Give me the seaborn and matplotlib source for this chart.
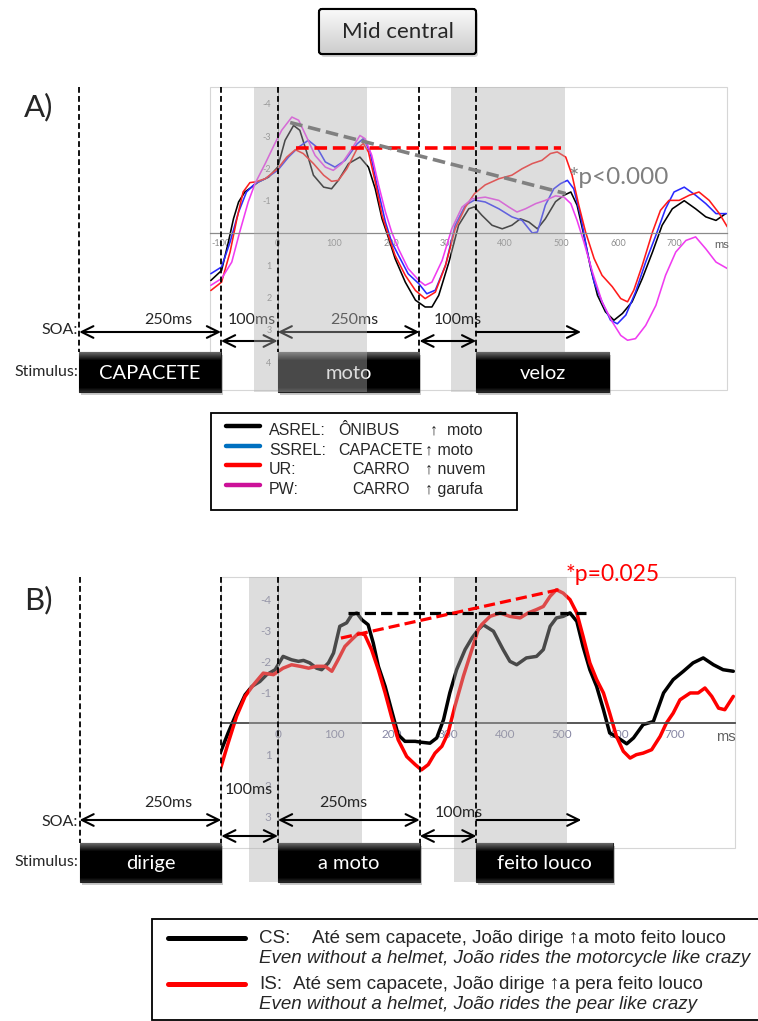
import numpy as np
import pandas as pd
import matplotlib
matplotlib.use("Agg")
import matplotlib.pyplot as plt
import seaborn as sns
from matplotlib import transforms
from matplotlib.patches import Rectangle, FancyBboxPatch
from matplotlib.lines import Line2D

# ---------------------------------------------------------------------------
# Panel A: grand-average ERPs at the mid-central site (µV, negative up)
# ---------------------------------------------------------------------------
a_asrel_t = [-118, -99, -87, -78, -69, -58, -46, -34, -16, 0, 13, 28, 39, 51, 63, 81, 95, 107, 125, 145,
             160, 172, 184, 196, 207, 225, 243, 260, 272, 284, 302, 319, 337, 347, 360, 378, 396, 413, 428,
             443, 458, 472, 490, 505, 517, 528, 540, 552, 564, 578, 593, 608, 625, 643, 661, 678, 696, 717,
             737, 755, 773, 790]
a_asrel_v = [1.47, 1.16, 0.28, -0.44, -0.96, -1.27, -1.42, -1.58, -1.73, -2.04, -2.87, -3.33, -3.18, -2.51,
             -1.79, -1.42, -1.37, -1.63, -2.15, -2.35, -2.04, -1.37, -0.44, 0.18, 0.79, 1.52, 2.08, 2.29, 2.29,
             1.93, 0.90, -0.24, -0.75, -0.81, -0.55, -0.24, -0.13, -0.24, -0.44, -0.34, -0.13, -0.44, -0.97,
             -1.17, -1.27, -0.86, 0.07, 1.09, 1.93, 2.44, 2.70, 2.49, 2.13, 1.41, 0.59, -0.24, -0.75, -1.00,
             -0.75, -0.50, -0.39, -0.60]

a_ssrel_t = [-118, -99, -84, -69, -55, -40, -22, 0, 19, 37, 54, 69, 84, 101, 119, 140, 151, 163, 175, 190,
             201, 213, 230, 249, 263, 278, 296, 313, 331, 347, 366, 390, 413, 431, 449, 458, 472, 487, 499,
             511, 522, 534, 546, 558, 572, 587, 599, 614, 631, 649, 667, 684, 699, 717, 737, 755, 773, 793]
a_ssrel_v = [1.26, 1.05, 0.28, -0.65, -1.27, -1.53, -1.68, -1.94, -2.35, -2.66, -2.87, -2.66, -2.20, -2.04,
             -2.25, -2.76, -2.92, -2.51, -1.48, -0.34, 0.28, 0.69, 1.26, 1.57, 1.88, 1.77, 1.00, -0.24, -0.86,
             -1.02, -0.96, -0.75, -0.50, -0.39, 0.00, -0.03, -0.86, -1.37, -1.53, -1.63, -1.37, -0.55, 0.58,
             1.52, 2.13, 2.70, 2.81, 2.54, 1.83, 0.90, 0.07, -0.75, -1.27, -1.42, -1.17, -0.91, -0.60, -0.60]

a_ur_t = [-118, -99, -84, -72, -61, -49, -40, -22, 0, 16, 31, 45, 63, 81, 95, 107, 122, 140, 151, 160, 172,
          184, 196, 207, 225, 243, 260, 278, 296, 313, 331, 347, 366, 390, 413, 431, 449, 466, 481, 493, 508,
          519, 531, 543, 558, 572, 590, 605, 617, 628, 643, 661, 675, 690, 708, 726, 743, 761, 779, 793]
a_ur_v = [1.78, 1.52, 0.59, -0.44, -1.27, -1.56, -1.58, -1.68, -1.99, -2.35, -2.58, -2.46, -2.15, -1.79,
          -1.60, -1.63, -1.99, -2.61, -2.77, -2.51, -1.58, -0.55, 0.12, 0.69, 1.31, 1.78, 2.03, 1.83, 1.00,
          -0.13, -0.80, -1.22, -1.49, -1.68, -1.79, -1.99, -2.15, -2.25, -2.46, -2.51, -2.35, -1.80, -0.86,
          -0.03, 0.79, 1.31, 1.66, 2.03, 2.13, 1.77, 1.00, -0.03, -0.70, -1.01, -1.01, -1.17, -1.27, -1.01,
          -0.60, -0.19]

a_pw_t = [-118, -99, -81, -67, -52, -40, -22, -5, 7, 25, 37, 51, 66, 84, 98, 113, 131, 145, 154, 166, 178,
          190, 201, 213, 230, 249, 260, 272, 290, 307, 325, 343, 366, 390, 408, 422, 437, 455, 472, 490, 505,
          517, 528, 540, 555, 572, 590, 605, 617, 631, 649, 667, 684, 702, 720, 737, 755, 773, 793]
a_pw_v = [1.62, 1.41, 0.90, -0.03, -0.96, -1.53, -2.15, -2.77, -3.18, -3.59, -3.49, -2.97, -2.40, -2.04,
          -1.94, -2.15, -2.61, -3.02, -2.92, -2.40, -1.48, -0.65, -0.03, 0.49, 1.10, 1.47, 1.62, 1.52, 0.85,
          -0.13, -0.80, -1.06, -1.11, -1.01, -0.80, -0.65, -0.75, -0.91, -1.01, -1.15, -1.11, -0.91, -0.39,
          0.28, 1.20, 2.13, 2.75, 3.17, 3.32, 3.27, 2.86, 2.24, 1.31, 0.59, 0.23, 0.12, 0.49, 0.90, 1.10]

a_conditions = ["ASREL", "SSREL", "UR", "PW"]
a_curve_colors = ["#000000", "#2a2aff", "#ff1a1a", "#f03cf0"]
a_key_colors = ["#000000", "#0070c0", "#ff0000", "#cc1199"]
a_key_codes = ["ASREL:", "SSREL:", "UR:", "PW:"]
a_key_context = ["ÔNIBUS", "CAPACETE", "CARRO", "CARRO"]
a_key_target = ["↑  moto", "↑ moto", "↑ nuvem", "↑ garufa"]

# comparison lines and statistic drawn over panel A
a_red_ref_ms, a_red_ref_uv = [32, 500], [-2.64, -2.64]
a_grey_ref_ms, a_grey_ref_uv = [22, 508], [-3.42, -1.22]
a_stat_text = "*p<0.000"

# ---------------------------------------------------------------------------
# Panel B: sentence condition ERPs
# ---------------------------------------------------------------------------
b_cs_t = [-102, -88, -73, -58, -46, -32, -20, -5, 9, 24, 36, 45, 56, 68, 77, 89, 98, 109, 121, 130, 139, 148,
          159, 168, 177, 189, 200, 212, 224, 242, 253, 268, 280, 292, 303, 315, 330, 342, 353, 362, 380, 397,
          409, 421, 438, 456, 468, 480, 491, 503, 515, 527, 538, 550, 562, 574, 585, 600, 615, 627, 644, 662,
          680, 697, 715, 732, 750, 768, 785, 803]
b_cs_v = [0.97, 0.32, -0.32, -0.91, -1.18, -1.34, -1.56, -1.72, -2.15, -2.04, -1.99, -2.02, -1.94, -1.77,
          -1.72, -1.94, -2.26, -3.12, -3.23, -3.49, -3.55, -3.33, -3.17, -2.58, -1.83, -1.18, -0.43, 0.38,
          0.59, 0.59, 0.62, 0.65, 0.48, -0.11, -0.97, -1.72, -2.37, -2.74, -3.01, -3.17, -2.96, -2.37, -1.99,
          -1.88, -2.10, -2.15, -2.37, -3.12, -3.39, -3.44, -3.55, -3.28, -2.47, -1.72, -1.18, -0.43, 0.32,
          0.48, 0.67, 0.48, 0.05, -0.05, -0.97, -1.40, -1.67, -1.94, -2.10, -1.88, -1.72, -1.67]

b_is_t = [-102, -88, -73, -58, -43, -26, -8, 9, 24, 39, 54, 68, 83, 95, 106, 118, 130, 142, 153, 165, 177,
          189, 200, 212, 227, 242, 253, 265, 277, 289, 300, 312, 327, 342, 353, 359, 374, 392, 409, 427, 441,
          456, 468, 480, 491, 503, 515, 527, 538, 550, 562, 574, 585, 597, 609, 621, 632, 644, 659, 674, 685,
          697, 709, 727, 741, 753, 765, 777, 788, 803]
b_is_v = [1.51, 0.65, -0.22, -0.86, -1.24, -1.61, -1.56, -1.77, -1.88, -1.83, -1.77, -1.83, -1.83, -1.67,
          -2.04, -2.47, -2.69, -2.90, -2.85, -2.37, -1.72, -0.97, -0.22, 0.54, 1.08, 1.34, 1.51, 1.34, 0.97,
          0.75, 0.32, -0.54, -1.51, -2.37, -3.01, -3.17, -3.44, -3.55, -3.44, -3.39, -3.55, -3.66, -3.76,
          -4.09, -4.30, -4.19, -3.98, -3.55, -2.80, -1.94, -1.40, -0.97, -0.32, 0.43, 0.91, 1.13, 1.02, 0.97,
          0.86, 0.43, 0.00, -0.32, -0.75, -0.97, -0.97, -1.13, -0.86, -0.48, -0.43, -0.86]

b_conditions = ["CS", "IS"]
b_curve_colors = ["#000000", "#ff0000"]
b_key_codes = ["CS:", "IS:"]
b_key_pt = ["Até sem capacete, João dirige ↑a moto feito louco",
            "Até sem capacete, João dirige ↑a pera feito louco"]
b_key_en = ["Even without a helmet, João rides the motorcycle like crazy",
            "Even without a helmet, João rides the pear like crazy"]

b_black_ref_ms, b_black_ref_uv = [124, 543], [-3.55, -3.55]
b_red_ref_ms, b_red_ref_uv = [111, 500], [-2.74, -4.32]
b_stat_text = "*p=0.025"

# time axis ticks and analysis windows (ms)
x_ticks = [-100, 0, 100, 200, 300, 400, 500, 600, 700]
a_y_ticks = [-4, -3, -2, -1, 1, 2, 3, 4]
b_y_ticks = [-4, -3, -2, -1, 1, 2, 3]
a_windows = [(-41, 158), (306, 506)]
b_windows = [(-51, 149), (311, 509)]

# stimulus timeline (ms relative to the critical word)
event_lines = [-350, -100, 0, 250, 350]
a_words = ["CAPACETE", "moto", "veloz"]
b_words = ["dirige", "a moto", "feito louco"]
word_on = [-350, 0, 350]
a_word_off = [-100, 250, 585]
b_word_off = [-100, 250, 590]
soa_labels = ["250ms", "100ms", "250ms", "100ms"]
soa_spans = [(-350, -100), (-100, 0), (0, 250), (250, 350)]
last_span = (350, 535)

# ---------------------------------------------------------------------------
sns.set_style("white")
plt.rcParams["font.family"] = ["Lato", "DejaVu Sans"]
ARIAL = ["Liberation Sans", "DejaVu Sans"]

W, H = 758, 1021
fig = plt.figure(figsize=(W / 100, H / 100), dpi=100)


def rect(x0, y0, x1, y1):
    return [x0 / W, 1 - y1 / H, (x1 - x0) / W, (y1 - y0) / H]


axA = fig.add_axes(rect(210, 87, 727, 390))
axB = fig.add_axes(rect(221, 577, 735, 848))
over = fig.add_axes([0, 0, 1, 1], zorder=10)
over.set_xlim(0, W)
over.set_ylim(H, 0)
over.set_autoscale_on(False)
over.axis("off")
over.patch.set_alpha(0)


def long_frame(names, times, values):
    parts = [pd.DataFrame({"ms": t, "uv": v, "cond": n}) for n, t, v in zip(names, times, values)]
    return pd.concat(parts, ignore_index=True)


dfA = long_frame(a_conditions, [a_asrel_t, a_ssrel_t, a_ur_t, a_pw_t],
                 [a_asrel_v, a_ssrel_v, a_ur_v, a_pw_v])
dfB = long_frame(b_conditions, [b_cs_t, b_is_t], [b_cs_v, b_is_v])

sns.lineplot(data=dfA, x="ms", y="uv", hue="cond", hue_order=a_conditions,
             palette=dict(zip(a_conditions, a_curve_colors)), estimator=None,
             legend=False, lw=1.15, ax=axA)
sns.lineplot(data=dfB, x="ms", y="uv", hue="cond", hue_order=b_conditions,
             palette=dict(zip(b_conditions, b_curve_colors)), estimator=None,
             legend=False, lw=2.5, ax=axB)

axA.set_xlim(-119.4, 792.4)
axA.set_ylim(4.86, -4.52)
axB.set_xlim(-100.5, 806)
axB.set_ylim(4.03, -4.71)


def style_erp(ax, yt, xt, lab_color, fsize, axis_color, axis_lw, ms_x, ms_size, minor):
    ax.set_facecolor("none")
    ax.set_xlabel("")
    ax.set_ylabel("")
    for s in ("top", "right"):
        ax.spines[s].set_visible(False)
    ax.spines["left"].set_position(("data", 0))
    ax.spines["bottom"].set_position(("data", 0))
    ax.spines["bottom"].set_color(axis_color)
    ax.spines["bottom"].set_linewidth(axis_lw)
    ax.spines["left"].set_color("#9a9a9a")
    ax.spines["left"].set_linewidth(0.6)
    ax.set_xticks(xt)
    ax.set_xticklabels([str(v) for v in xt])
    ax.set_yticks(yt)
    ax.set_yticklabels([str(v) for v in yt])
    ax.tick_params(axis="both", which="major", direction="out", length=3, width=0.6,
                   color=axis_color, labelcolor=lab_color, labelsize=fsize, pad=1.5)
    if minor:
        ax.set_xticks(np.arange(-80, 800, 20), minor=True)
        ax.tick_params(axis="x", which="minor", direction="inout", length=5, width=0.8,
                       color=axis_color)
    ax.add_patch(Rectangle((0, 0), 1, 1, transform=ax.transAxes, fill=False,
                           ec="#d6d6d6", lw=0.8, clip_on=False))
    ax.text(ms_x, 0.22, "ms", ha="left", va="top", color="#606060", fontsize=ms_size,
            family=ARIAL)


style_erp(axA, a_y_ticks, x_ticks, "#8c8c8c", 6.5, "#8a8a8a", 0.9, 770, 8, False)
style_erp(axB, b_y_ticks, x_ticks[1:], "#8585a3", 8.5, "#4a4a4a", 1.3, 772, 10.5, True)

# ---------------------------------------------------------------------------
# overlay: timeline annotations, analysis windows and comparison lines
# ---------------------------------------------------------------------------
bA = transforms.blended_transform_factory(axA.transData, over.transData)
bB = transforms.blended_transform_factory(axB.transData, over.transData)


def ms2px(ax, ms):
    disp = ax.transData.transform((ms, 0))
    return over.transData.inverted().transform(disp)[0]


SHADE_FC, SHADE_ALPHA = "#b0b0b0", 0.42

for i, (a, b) in enumerate(a_windows):
    over.add_patch(Rectangle((a, 87), b - a, 392 - 87, transform=bA, fc=SHADE_FC,
                             alpha=SHADE_ALPHA, lw=0, zorder=4 if i == 0 else 1))
for a, b in b_windows:
    over.add_patch(Rectangle((a, 577), b - a, 882 - 577, transform=bB, fc=SHADE_FC,
                             alpha=SHADE_ALPHA, lw=0, zorder=1))

# event onset / offset markers
for x in event_lines:
    over.add_line(Line2D([x, x], [87, 352], transform=bA, color="black", lw=1.3,
                         ls=(0, (3.2, 1.8)), zorder=6))
    over.add_line(Line2D([x, x], [577, 843], transform=bB, color="black", lw=1.3,
                         ls=(0, (3.2, 1.8)), zorder=6))

# comparison lines
over.add_line(Line2D(a_red_ref_ms, a_red_ref_uv, transform=axA.transData, color="#ff0000",
                     lw=2.6, ls=(0, (3.5, 1.6)), zorder=7))
over.add_line(Line2D(a_grey_ref_ms, a_grey_ref_uv, transform=axA.transData, color="#808080",
                     lw=2.6, ls=(0, (3.5, 1.6)), zorder=7))
over.text(512, -1.73, a_stat_text, transform=axA.transData, color="#7f7f7f", fontsize=17.5,
          ha="left", va="center", zorder=7)
over.add_line(Line2D(b_black_ref_ms, b_black_ref_uv, transform=axB.transData, color="black",
                     lw=2.3, ls=(0, (3.5, 1.6)), zorder=7))
over.add_line(Line2D(b_red_ref_ms, b_red_ref_uv, transform=axB.transData, color="#ff0000",
                     lw=2.3, ls=(0, (3.5, 1.6)), zorder=7))
over.text(507, -4.8, b_stat_text, transform=axB.transData, color="#ff0000", fontsize=16.5,
          ha="left", va="center", zorder=7)


def arrow(tr, x0, x1, y, style="<->"):
    over.annotate("", xy=(x1, y), xytext=(x0, y), xycoords=tr, textcoords=tr,
                  arrowprops=dict(arrowstyle=f"{style},head_length=0.85,head_width=0.42",
                                  lw=1.5, color="black", shrinkA=0, shrinkB=0),
                  zorder=3)


def timeline(tr, ax, y_long, y_short, text_pos, words, offs, y_box0, y_box1, y_soa, y_stim):
    for (a, b), lab, (tx, ty) in zip(soa_spans, soa_labels, text_pos):
        arrow(tr, a, b, y_long if (b - a) > 150 else y_short)
        over.text(tx, ty, lab, transform=tr, ha="center", va="center", fontsize=11.5, zorder=3)
    arrow(tr, last_span[0], last_span[1], y_long, "->")
    for w, a, b in zip(words, word_on, offs):
        x0, x1 = ms2px(ax, a), ms2px(ax, b)
        over.add_patch(Rectangle((x0 + 2, y_box0 + 3), x1 - x0, y_box1 - y_box0, fc="#8c8c8c",
                                 alpha=0.45, lw=0, zorder=2.8))
        box = Rectangle((x0, y_box0), x1 - x0, y_box1 - y_box0, fc="black", ec="#222222",
                        lw=0.8, zorder=3)
        over.add_patch(box)
        shades = np.concatenate([np.linspace(0.40, 0.0, 9), np.zeros(26), np.linspace(0.0, 0.15, 5)])
        img = np.dstack([shades] * 3).reshape(-1, 1, 3)
        im = over.imshow(img, extent=(x0, x1, y_box1, y_box0), origin="upper", aspect="auto",
                         interpolation="bilinear", zorder=3.1)
        im.set_clip_path(box)
        over.text((x0 + x1) / 2, (y_box0 + y_box1) / 2 + 1, w, color="white", ha="center",
                  va="center", fontsize=14.5, zorder=3.2)
    over.text(78, y_soa, "SOA:", ha="right", va="center", fontsize=11.5, zorder=3)
    over.text(78, y_stim, "Stimulus:", ha="right", va="center", fontsize=11.5, zorder=3)


timeline(bA, axA, 332, 341, [(-193, 320), (-45, 320), (135, 320), (318, 320)],
         a_words, a_word_off, 352, 392, 330, 372)
timeline(bB, axB, 820, 836, [(-193, 803), (-52, 790), (115, 803), (318, 813)],
         b_words, b_word_off, 843, 882, 822, 862)

# title box
tb = FancyBboxPatch((319, 9), 157, 45, boxstyle="round,pad=0,rounding_size=3",
                    fc="#e4e4e4", ec="black", lw=1.5, zorder=3)
over.add_patch(FancyBboxPatch((321, 12), 157, 45, boxstyle="round,pad=0,rounding_size=3",
                              fc="#9a9a9a", alpha=0.4, lw=0, zorder=2.9))
over.add_patch(tb)
g = np.linspace(0.98, 0.80, 40)
gim = over.imshow(np.dstack([g] * 3).reshape(-1, 1, 3), extent=(319, 476, 54, 9), origin="upper",
                  aspect="auto", interpolation="bilinear", zorder=3.05)
gim.set_clip_path(tb)
over.add_patch(FancyBboxPatch((319, 9), 157, 45, boxstyle="round,pad=0,rounding_size=3",
                              fc="none", ec="black", lw=1.5, zorder=3.1))
over.text(397.5, 32, "Mid central", ha="center", va="center", fontsize=16, zorder=3.2)

over.text(24, 107, "A)", ha="left", va="center", fontsize=22.5)
over.text(24, 600, "B)", ha="left", va="center", fontsize=22.5)

# key for panel A
over.add_patch(Rectangle((211, 413), 306, 97, fc="white", ec="black", lw=1.3, zorder=3))
rowsA = [430, 450, 469, 489]
for y, c, code, ctx, tgt, cx, ax_ in zip(rowsA, a_key_colors, a_key_codes, a_key_context,
                                         a_key_target, [338, 338, 352, 352], [430, 425, 425, 425]):
    over.add_line(Line2D([226, 260], [y - 4, y - 4], color=c, lw=3.2, zorder=4))
    over.text(269, y, code, ha="left", va="center", fontsize=11.5, family=ARIAL, zorder=4)
    over.text(cx, y, ctx, ha="left", va="center", fontsize=11.5, family=ARIAL, zorder=4)
    over.text(ax_, y, tgt, ha="left", va="center", fontsize=11.5, family=ARIAL, zorder=4)

# key for panel B
over.add_patch(Rectangle((152, 919), 640, 101, fc="white", ec="black", lw=1.3, zorder=3,
                         clip_on=False))
for i, (c, code, pt, en, ptx) in enumerate(zip(b_curve_colors, b_key_codes, b_key_pt, b_key_en,
                                               [312, 293])):
    y0 = 938 + i * 46
    over.add_line(Line2D([168, 245], [y0, y0], color=c, lw=3.6, zorder=4))
    over.text(259, y0, code, ha="left", va="center", fontsize=13.5, family=ARIAL, zorder=4)
    over.text(ptx, y0, pt, ha="left", va="center", fontsize=13.5, family=ARIAL, zorder=4)
    over.text(259, y0 + 20, en, ha="left", va="center", fontsize=13.5, family=ARIAL,
              style="italic", zorder=4)

over.set_xlim(0, W)
over.set_ylim(H, 0)
fig.savefig("out.png", dpi=100)
